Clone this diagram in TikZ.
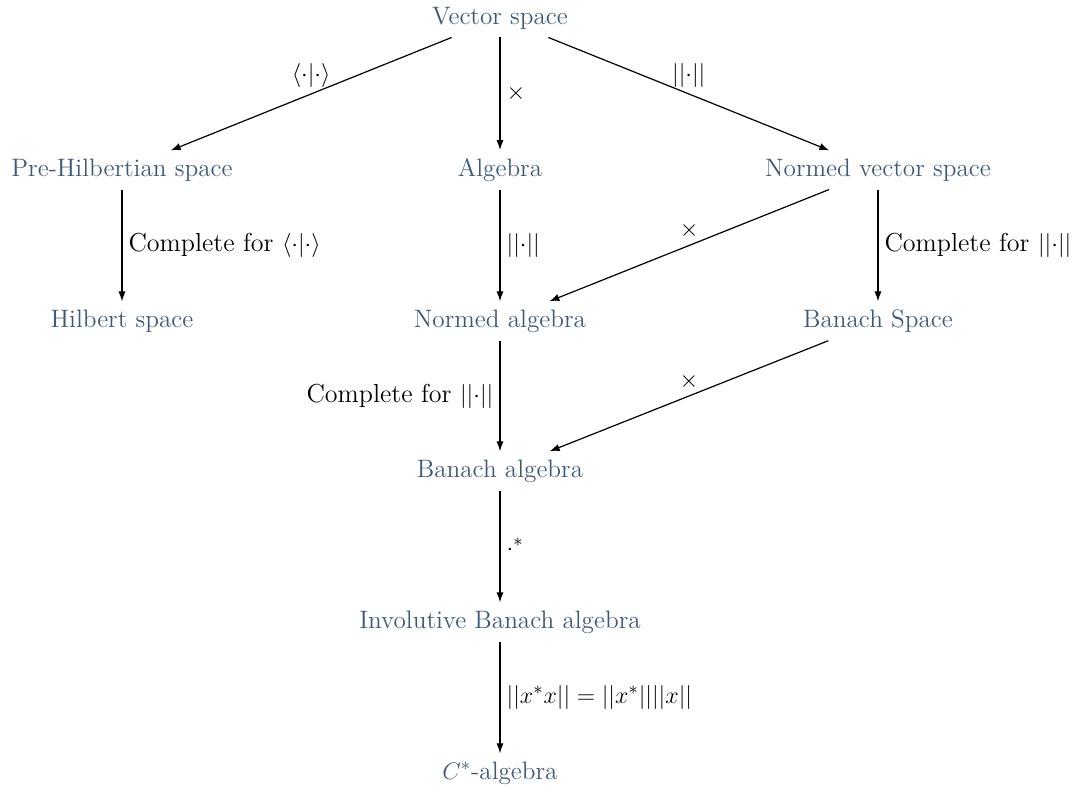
\documentclass[tikz,border=0pt]{standalone}
\usepackage{amsmath,amssymb}
\usetikzlibrary{arrows.meta}
\definecolor{nodeblue}{RGB}{61,90,122}
\begin{document}
\begin{tikzpicture}[x=0.5pt,y=-0.5pt,
  every node/.style={font=\fontsize{12.6}{15}\selectfont},
  space/.style={text=nodeblue, inner sep=4pt},
  arr/.style={draw, line width=0.6pt, -{Latex[length=5pt,width=3.6pt]}},
  lab/.style={inner sep=3pt, font=\fontsize{13}{15}\selectfont}]
\useasboundingbox (0,0) rectangle (1072,793);
\node[space] (vs) at (500,18) {Vector space};
\node[space] (ph) at (122,170) {Pre-Hilbertian space};
\node[space] (al) at (500,170) {Algebra};
\node[space] (nvs) at (878,170) {Normed vector space};
\node[space] (hs) at (122,321) {Hilbert space};
\node[space] (na) at (500,321) {Normed algebra};
\node[space] (bs) at (878,321) {Banach Space};
\node[space] (ba) at (500,471) {Banach algebra};
\node[space] (iba) at (500,622) {Involutive Banach algebra};
\node[space] (cs) at (500,773) {$C^*$-algebra};

\draw[arr] (vs) -- node[lab, above] {$\langle\cdot|\cdot\rangle$} (ph);
\draw[arr] (vs) -- node[lab, right] {$\times$} (al);
\draw[arr] (vs) -- node[lab, above] {$||{\cdot}||$} (nvs);
\draw[arr] (ph) -- node[lab, right] {Complete for $\langle\cdot|\cdot\rangle$} (hs);
\draw[arr] (al) -- node[lab, right] {$||{\cdot}||$} (na);
\draw[arr] (nvs) -- node[lab, above] {$\times$} (na);
\draw[arr] (nvs) -- node[lab, right] {Complete for $||{\cdot}||$} (bs);
\draw[arr] (na) -- node[lab, left] {Complete for $||{\cdot}||$} (ba);
\draw[arr] (bs) -- node[lab, above] {$\times$} (ba);
\draw[arr] (ba) -- node[lab, right] {$\cdot^*$} (iba);
\draw[arr] (iba) -- node[lab, right] {$||x^*x|| = ||x^*||||x||$} (cs);
\end{tikzpicture}
\end{document}
